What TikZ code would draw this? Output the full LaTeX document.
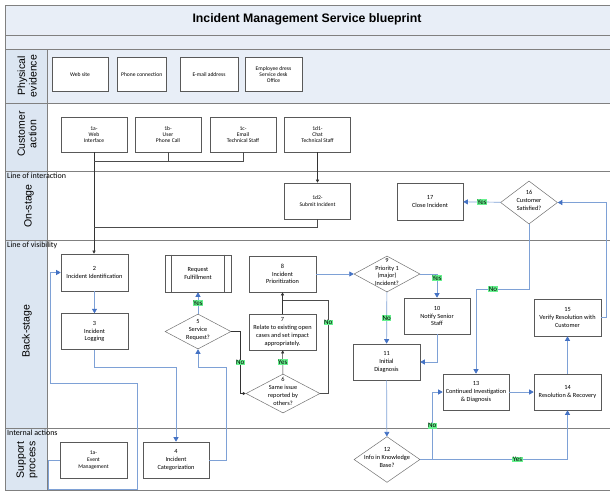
\documentclass[tikz,border=0pt]{standalone}
\usepackage{fontspec}
\setmainfont{Carlito}
\newfontfamily\arialfont{Liberation Sans}
\usepackage{tikz}
\usetikzlibrary{positioning, arrows.meta, shapes.geometric}
\definecolor{laneblue}{HTML}{DCE6F2}
\definecolor{bandblue}{HTML}{E8EEF7}
\definecolor{lanegray}{HTML}{808080}
\definecolor{flowblue}{HTML}{7EA1D6}
\definecolor{tipblue}{HTML}{4472C4}
\definecolor{yesgreen}{HTML}{66F28E}
\newcommand{\dlines}[1]{\smash{\begin{tabular}{@{}c@{}}#1\end{tabular}}}

\begin{document}
\begin{tikzpicture}[
    x=1pt, y=-1pt,
    every node/.style={font=\fontsize{6.3}{7.8}\selectfont},
    box/.style={
      draw=black!65, fill=white, line width=0.6pt, align=center,
      minimum width=66pt, minimum height=36pt, inner sep=0pt
    },
    smallbox/.style={box, font=\fontsize{5.6}{5.8}\selectfont},
    decision/.style={
      diamond, draw=black!55, fill=white, line width=0.5pt,
      minimum width=66pt, minimum height=36pt, inner sep=0pt
    },
    lane/.style={draw=lanegray, line width=0.8pt},
    lanetitle/.style={font=\arialfont\fontsize{10.5}{11.5}\selectfont, rotate=90, align=center},
    marker/.style={font=\fontsize{8}{9}\selectfont, anchor=north west, inner sep=0pt},
    flow/.style={draw=flowblue, line width=0.7pt, -{Triangle[length=4.5pt, width=5pt, color=tipblue]}},
    conn/.style={draw=black!80, line width=0.5pt, -{Triangle[length=3pt, width=3pt]}},
    wire/.style={draw=black!70, line width=0.5pt},
    answer/.style={fill=yesgreen, inner sep=0.5pt, font=\fontsize{7}{7.5}\selectfont}
]
  \useasboundingbox (0,0) rectangle (610,493);

  % swimlanes
  \fill[bandblue] (5,5) rectangle (610,103);
  \fill[laneblue] (5,49) rectangle (47,490);
  \draw[lane] (5,5) rectangle (610,490);
  \foreach \y in {35,49,103,171,240,428} \draw[lane] (5,\y) -- (610,\y);
  \draw[lane] (47,49) -- (47,490);

  \node[font=\arialfont\bfseries\fontsize{12.3}{13}\selectfont] (title) at (307,19) {Incident Management Service blueprint};

  \node[lanetitle] (lphys) at (27,76) {Physical\\evidence};
  \node[lanetitle] (lcust) at (27,134) {Customer\\action};
  \node[lanetitle] (lon) at (29,206) {On-stage};
  \node[lanetitle] (lback) at (27,331) {Back-stage};
  \node[lanetitle] (lsup) at (27,460) {Support\\process};

  \node[marker] (interaction) at (7,172.5) {Line of interaction};
  \node[marker] (visibility) at (7,241.5) {Line of visibility};
  \node[marker] (internal) at (7,429.5) {Internal actions};

  % physical evidence
  \node[smallbox, minimum width=56pt, minimum height=34pt] (web) at (80,74.5) {Web site};
  \node[smallbox, minimum width=49pt, minimum height=34pt] (phone) at (141.7,74.5) {Phone connection};
  \node[smallbox, minimum width=58pt, minimum height=34pt] (mail) at (209,74.5) {E-mail address};
  \node[smallbox, minimum width=57pt, minimum height=34pt] (dress) at (273.5,74.5) {Employee dress\\Service desk\\Office};

  % customer action and on-stage
  \node[smallbox, minimum height=35pt] (c1a) at (94,134.5) {1a-\\Web\\Interface};
  \node[smallbox, minimum height=35pt] (c1b) at (168,134.5) {1b-\\User\\Phone Call};
  \node[smallbox, minimum height=35pt] (c1c) at (243,134.5) {1c-\\Email\\Technical Staff};
  \node[smallbox, minimum height=35pt] (c1d1) at (317.5,134.5) {1d1-\\Chat\\Technical Staff};
  \node[smallbox, font=\fontsize{5.6}{7}\selectfont] (c1d2) at (317.5,201) {1d2-\\Submit Incident};
  \node[box, minimum height=37pt] (c17) at (430,201.5) {17\\Close Incident};
  \node[decision, minimum width=57pt, minimum height=43pt] (c16) at (529,202.5) {\dlines{16\\Customer\\Satisfied?}};

  % back-stage
  \node[box, minimum width=67pt, minimum height=37pt] (c2) at (94.5,272.5) {2\\Incident Identification};
  \node[box, minimum width=67pt, below=22pt of c2] (c3) {3\\Incident\\Logging};
  \node[box, minimum height=37pt] (rf) at (198,273.5) {Request\\Fulfillment};
  \draw[draw=black!65, line width=0.6pt] ([xshift=7pt]rf.north west) -- ([xshift=7pt]rf.south west)
    ([xshift=-7pt]rf.north east) -- ([xshift=-7pt]rf.south east);
  \node[decision, minimum height=35pt] (c5) at (198,331.5) {\dlines{5\\Service\\Request?}};
  \node[box, minimum width=67pt] (c8) at (282.5,274) {8\\Incident\\Prioritization};
  \node[box, minimum width=67pt] (c7) at (282.5,332) {7\\Relate to existing open\\cases and set impact\\appropriately.};
  \node[decision, minimum width=74pt, minimum height=39pt] (c6) at (283,393.5) {\dlines{6\\Same issue\\reported by\\others?}};
  \node[decision] (c9) at (387,274) {\dlines{9\\Priority 1\\(major)\\Incident?}};
  \node[box] (c10) at (437,316) {10\\Notify Senior\\Staff};
  \node[box, minimum width=67pt] (c11) at (386.5,362) {11\\Initial\\Diagnosis};
  \node[box] (c13) at (476,392) {13\\Continued Investigation\\\& Diagnosis};
  \node[box, minimum width=67pt] (c14) at (567.5,392) {14\\Resolution \& Recovery};
  \node[box, minimum width=67pt, minimum height=37pt] (c15) at (567.5,317.5) {15\\Verify Resolution with\\Customer};

  % support process
  \node[smallbox, minimum width=67pt, font=\fontsize{5.6}{7}\selectfont] (cem) at (93.5,460) {1a-\\Event\\Management};
  \node[box] (c4) at (176,460) {4\\Incident\\Categorization};
  \node[decision, minimum height=35pt] (c12) at (387,459.5) {\dlines{12\\Info in Knowledge\\Base?}};

  % customer side connectors
  \coordinate (j1) at (94,161);
  \coordinate (j2) at (94,227);
  \draw[conn] (c1a.south) -- (c1a.south |- c2.north);
  \draw[wire] (c1b.south) -- (c1b.south |- j1);
  \draw[wire] (c1c.south) |- (j1);
  \draw[conn] (c1d1) -- (c1d2);
  \draw[wire] (c1d2.south) |- (j2);

  % process flow
  \draw[flow] (c2) -- (c3);
  \draw[flow] (c3.south) -- ++(0,17) -| (c4.north);
  \draw[flow] (c4.east) -- ++(17,0) -- ++(0,-93) -| (c5.south);
  \draw[flow] (c5) -- node[answer] {Yes} (rf);
  \draw[conn] (c5.east) -- ++(9,0) |- node[answer, pos=0.25] {No} (c6.west);
  \draw[conn] (c6) -- node[answer] {Yes} (c7);
  \draw[conn] (c7) -- (c8);
  \coordinate (j3) at (282.5,300);
  \draw[wire] (c6.east) -- ++(8,0) |- node[answer, pos=0.38] {No} (j3);
  \draw[flow] (c8) -- (c9);
  \draw[flow] (c9.east) -| node[answer, pos=0.58] {Yes} (c10.north);
  \draw[flow] (c9) -- node[answer] {No} (c11);
  \draw[flow] (c10.south) |- (c11.east);
  \draw[flow] (c11) -- (c12);
  \draw[flow] (c12.east) -| node[answer, pos=0.33] {Yes} (c14.south);
  \draw[flow] (c12.east) -- ++(12,0) |- node[answer, pos=0.25] {No} (c13.west);
  \draw[flow] (c13) -- (c14);
  \draw[flow] (c14) -- (c15);
  \draw[flow] (c15.east) -- ++(5,0) |- (c16.east);
  \draw[flow] (c16) -- node[answer] {Yes} (c17);
  \draw[flow] (c16.south) -- ++(0,65) -| node[answer, pos=0.34] {No} (c13.north);
  \draw[flow] (cem.west) -- ++(-11,0) -- ++(0,29) -- ++(89,0) -- ++(0,-106) -- ++(-87,0) |- (c2.west);
\end{tikzpicture}
\end{document}
